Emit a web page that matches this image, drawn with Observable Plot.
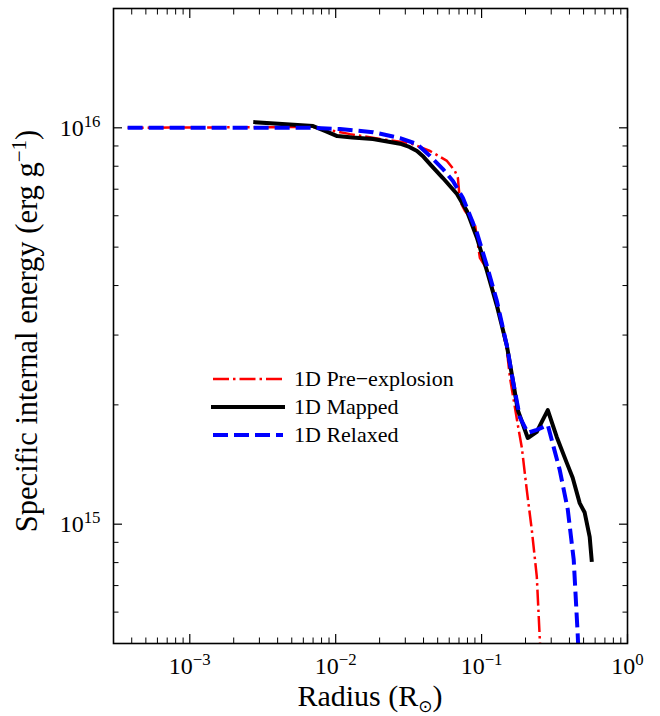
<!DOCTYPE html>
<html>
<head>
<meta charset="utf-8">
<script src="https://cdn.jsdelivr.net/npm/d3@7"></script>
<script src="https://cdn.jsdelivr.net/npm/@observablehq/plot@0.6"></script>
<style>
  html, body { margin: 0; padding: 0; background: #fff; }
  #chart svg { display: block; }
</style>
</head>
<body>
<div id="chart"></div>
<script>
// ---- Data ----
const seriesNames = ["1D Pre\u2212explosion", "1D Mapped", "1D Relaxed"];

const preX = [3.75e-4, 7.0e-3, 1.257e-2, 2.016e-2, 3.233e-2, 4.43e-2, 5.79e-2, 6.56e-2, 6.88e-2, 7.10e-2, 7.69e-2, 8.99e-2, 9.29e-2, 9.73e-2, 0.1087, 0.1272, 0.149, 0.1563, 0.1771, 0.1887, 0.204, 0.2208, 0.239, 0.2506, 0.256];
const preY = [1.0e16, 1.005e16, 9.64e15, 9.37e15, 9.15e15, 8.74e15, 8.25e15, 7.78e15, 7.47e15, 6.54e15, 6.17e15, 5.73e15, 5.28e15, 4.70e15, 4.40e15, 3.62e15, 2.75e15, 2.35e15, 1.78e15, 1.56e15, 1.22e15, 9.68e14, 7.37e14, 5.12e14, 4.6e14];

const mapX = [2.81e-3, 7.0e-3, 8.6e-3, 1.024e-2, 1.3e-2, 1.8e-2, 2.76e-2, 3.2e-2, 3.61e-2, 4.0e-2, 4.43e-2, 5.43e-2, 6.78e-2, 7.93e-2, 9.29e-2, 0.1087, 0.1272, 0.149, 0.1637, 0.1771, 0.2073, 0.239, 0.258, 0.2842, 0.3273, 0.383, 0.421, 0.4703, 0.5087, 0.5505, 0.568];
const mapY = [1.033e16, 1.01e16, 9.8e15, 9.53e15, 9.45e15, 9.37e15, 9.12e15, 8.95e15, 8.74e15, 8.45e15, 8.10e15, 7.47e15, 6.81e15, 6.17e15, 5.28e15, 4.36e15, 3.56e15, 2.82e15, 2.31e15, 1.94e15, 1.65e15, 1.71e15, 1.81e15, 1.94e15, 1.66e15, 1.43e15, 1.31e15, 1.13e15, 1.07e15, 9.29e14, 8.13e14];

const relX = [3.75e-4, 7.0e-3, 1.07e-2, 1.8e-2, 2.76e-2, 3.61e-2, 4.43e-2, 5.43e-2, 6.36e-2, 7.45e-2, 9.29e-2, 0.1087, 0.1272, 0.149, 0.1637, 0.183, 0.2073, 0.239, 0.2842, 0.3124, 0.3432, 0.3894, 0.428, 0.4557, 0.463];
const relY = [1.0e16, 1.0e16, 9.93e15, 9.75e15, 9.42e15, 9.10e15, 8.49e15, 7.87e15, 7.34e15, 6.65e15, 5.43e15, 4.49e15, 3.66e15, 2.82e15, 2.31e15, 1.86e15, 1.70e15, 1.73e15, 1.78e15, 1.56e15, 1.37e15, 1.09e15, 8.13e14, 5.27e14, 4.6e14];

const xDomain = [3e-4, 1];
const yDomain = [5e14, 2e16];

const xMajor = [1e-3, 1e-2, 1e-1, 1];
const xMajorLabels = ["10^\u22123", "10^\u22122", "10^\u22121", "10^0"];
const xMinor = [4e-4, 5e-4, 6e-4, 7e-4, 8e-4, 9e-4,
                2e-3, 3e-3, 4e-3, 5e-3, 6e-3, 7e-3, 8e-3, 9e-3,
                2e-2, 3e-2, 4e-2, 5e-2, 6e-2, 7e-2, 8e-2, 9e-2,
                2e-1, 3e-1, 4e-1, 5e-1, 6e-1, 7e-1, 8e-1, 9e-1];
const yMajor = [1e15, 1e16];
const yMajorLabels = ["10^15", "10^16"];
const yMinor = [6e14, 7e14, 8e14, 9e14,
                2e15, 3e15, 4e15, 5e15, 6e15, 7e15, 8e15, 9e15,
                2e16];

const xLabel = ["Radius (R", "\u2299", ")"];
const yLabel = ["Specific internal energy (erg g", "\u22121", ")"];

// ---- Tables ----
const pre = preX.map((x, i) => ({x, y: preY[i]}));
const mapped = mapX.map((x, i) => ({x, y: mapY[i]}));
const relaxed = relX.map((x, i) => ({x, y: relY[i]}));
const xLab = new Map(xMajor.map((v, i) => [v, xMajorLabels[i]]));
const yLab = new Map(yMajor.map((v, i) => [v, yMajorLabels[i]]));

const FONT = "'Liberation Serif', 'DejaVu Serif', 'Times New Roman', serif";
const TICK_FS = 24;

const plot = Plot.plot({
  width: 660,
  height: 716,
  marginLeft: 113,
  marginRight: 33,
  marginTop: 8,
  marginBottom: 73,
  style: {fontFamily: FONT, fontSize: TICK_FS + "px", background: "#fff", color: "#000"},
  x: {type: "log", domain: xDomain},
  y: {type: "log", domain: yDomain},
  marks: [
    Plot.line(pre, {x: "x", y: "y", stroke: "#ff0000", strokeWidth: 2.5, strokeDasharray: "16,4,2.5,4", strokeLinecap: "butt", clip: true}),
    Plot.line(mapped, {x: "x", y: "y", stroke: "#000000", strokeWidth: 4, strokeLinecap: "square", clip: true}),
    Plot.line(relaxed, {x: "x", y: "y", stroke: "#0000ff", strokeWidth: 4, strokeDasharray: "15,6", strokeLinecap: "butt", clip: true}),
    // ticks (inward, on all four sides)
    Plot.axisX(xMajor, {anchor: "bottom", tickSize: -9, fill: "none", strokeWidth: 1.2}),
    Plot.axisX(xMajor, {anchor: "top", tickSize: -9, fill: "none", strokeWidth: 1.2}),
    Plot.axisX(xMinor, {anchor: "bottom", tickSize: -5.5, fill: "none", strokeWidth: 1}),
    Plot.axisX(xMinor, {anchor: "top", tickSize: -5.5, fill: "none", strokeWidth: 1}),
    Plot.axisY(yMajor, {anchor: "left", tickSize: -9, fill: "none", strokeWidth: 1.2}),
    Plot.axisY(yMajor, {anchor: "right", tickSize: -9, fill: "none", strokeWidth: 1.2}),
    Plot.axisY(yMinor, {anchor: "left", tickSize: -5.5, fill: "none", strokeWidth: 1}),
    Plot.axisY(yMinor, {anchor: "right", tickSize: -5.5, fill: "none", strokeWidth: 1}),
    // tick labels
    Plot.axisX(xMajor, {anchor: "bottom", tickSize: 0, tickPadding: 13, tickFormat: d => xLab.get(d), label: null, fontSize: TICK_FS, fill: "#000"}),
    Plot.axisY(yMajor, {anchor: "left", tickSize: 0, tickPadding: 13, tickFormat: d => yLab.get(d), label: null, fontSize: TICK_FS, fill: "#000"}),
    Plot.frame({stroke: "#000", strokeWidth: 1.6})
  ]
});

document.getElementById("chart").append(plot);

// ---- Post-processing: superscripts, axis titles, legend ----
const NS = "http://www.w3.org/2000/svg";
plot.querySelectorAll("text").forEach(t => {
  const m = t.textContent.match(/^10\^(.+)$/);
  if (!m) return;
  t.textContent = "";
  const base = document.createElementNS(NS, "tspan");
  base.textContent = "10";
  const sup = document.createElementNS(NS, "tspan");
  sup.setAttribute("font-size", TICK_FS * 0.7);
  sup.setAttribute("dy", -9);
  sup.textContent = m[1];
  t.append(base, sup);
});

const svg = d3.select(plot);
const g = svg.append("g").attr("font-family", FONT).attr("fill", "#000");

// x-axis title
const xt = g.append("text")
  .attr("x", 370).attr("y", 706)
  .attr("text-anchor", "middle").attr("font-size", 30);
xt.append("tspan").text(xLabel[0]);
xt.append("tspan").attr("font-size", 17).attr("dy", 6).attr("font-family", "'DejaVu Sans', sans-serif").text(xLabel[1]);
xt.append("tspan").attr("dy", -6).text(xLabel[2]);

// y-axis title
const yt = g.append("text")
  .attr("transform", "translate(37,331) rotate(-90)")
  .attr("text-anchor", "middle").attr("font-size", 30.5);
yt.append("tspan").text(yLabel[0]);
yt.append("tspan").attr("font-size", 21).attr("dy", -11).text(yLabel[1]);
yt.append("tspan").attr("dy", 11).text(yLabel[2]);

// legend
const legendStyles = [
  {stroke: "#ff0000", width: 2.5, dash: "16,4,2.5,4", cap: "butt"},
  {stroke: "#000000", width: 4, dash: null, cap: "square"},
  {stroke: "#0000ff", width: 4, dash: "15,6", cap: "butt"}
];
const lg = g.append("g");
seriesNames.forEach((name, i) => {
  const s = legendStyles[i];
  const y = 379 + i * 28;
  const ln = lg.append("line")
    .attr("x1", 213).attr("x2", 283).attr("y1", y).attr("y2", y)
    .attr("stroke", s.stroke).attr("stroke-width", s.width)
    .attr("stroke-linecap", s.cap);
  if (s.dash) ln.attr("stroke-dasharray", s.dash);
  lg.append("text").attr("x", 294).attr("y", y + 6.5)
    .attr("text-anchor", "start")
    .attr("font-size", 22).text(name);
});
</script>
</body>
</html>
